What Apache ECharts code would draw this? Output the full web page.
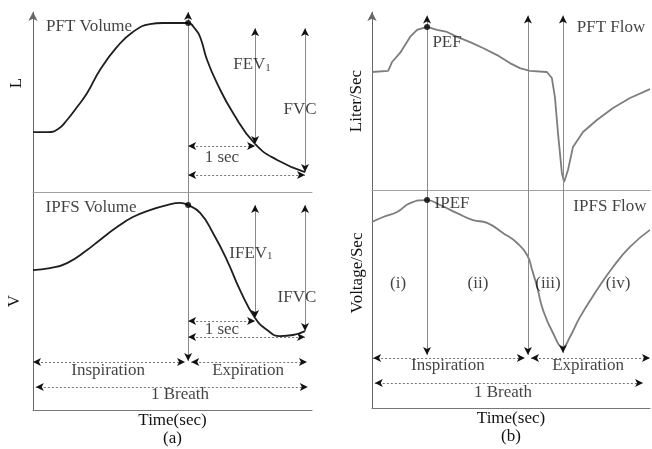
<!DOCTYPE html>
<html>
<head>
<meta charset="utf-8">
<script src="https://cdn.jsdelivr.net/npm/echarts@6/dist/echarts.min.js"></script>
<style>
  html, body { margin: 0; background: #fff; }
  #main { width: 652px; height: 449px; }
</style>
</head>
<body>
<div id="main"></div>
<script>
// time runs 0..10 across each panel, level 0..100 inside each plot
var pftVolTime = [0, 0.54, 0.9, 1.22, 1.58, 1.94, 2.4, 3.01, 3.58, 4.19, 4.66, 5.09, 5.56, 5.81, 5.99, 6.24, 6.59, 7.17, 7.96, 8.75, 9.75];
var pftVolValue = [33.3, 33.3, 35, 40, 47.2, 55, 67.8, 80.6, 88.9, 93.3, 93.9, 93.9, 93.9, 90.6, 86.1, 73.3, 60.6, 43.9, 26.7, 17.8, 11.1];

var ipfsVolTime = [0, 0.61, 1.22, 1.94, 2.4, 3.01, 3.58, 4.19, 4.8, 5.27, 5.56, 5.99, 6.45, 6.95, 7.42, 7.96, 8.39, 8.85, 9.32, 9.75];
var ipfsVolValue = [64.2, 65.1, 67.4, 73.4, 78, 83.9, 88.5, 91.7, 94, 95, 94, 90.4, 81.2, 68.8, 55, 42.2, 36.7, 33.9, 34.4, 36.2];

var pftFlowTime = [0, 0.58, 0.72, 1.01, 1.37, 1.62, 1.98, 2.34, 2.7, 3.06, 3.53, 3.99, 4.5, 4.96, 5.32, 5.68, 6.29, 6.47, 6.58, 6.69, 6.83, 6.91, 7.05, 7.23, 7.59, 8.09, 8.67, 9.28, 10];
var pftFlowValue = [66.3, 66.9, 71.9, 77, 86, 89.9, 91.6, 89.9, 88.8, 86, 83.1, 79.8, 75.8, 71.3, 68.5, 66.9, 66.3, 62.9, 52.2, 32, 9.6, 4.5, 11.2, 24.2, 32.6, 39.3, 46.1, 51.7, 56.7];

var ipfsFlowTime = [0, 0.4, 0.9, 1.37, 1.98, 2.45, 3.06, 3.63, 4.14, 4.71, 5.22, 5.58, 5.76, 5.94, 6.15, 6.51, 6.87, 7.12, 7.48, 8.09, 8.67, 9.28, 10];
var ipfsFlowValue = [85.3, 87.6, 89.9, 94, 95.4, 93.1, 89.4, 86.2, 84.9, 80.3, 75.7, 70.2, 63.3, 55.5, 45, 34.4, 28, 32.6, 41.7, 54.1, 64.7, 73.9, 81.7];

// key instants
var endInspA = 5.56, fev1A = 7.96, fvcA = 9.75;
var pefB = 1.98, endInspB = 5.61, minFlowB = 6.87;

// arrows: [x1, y1, x2, y2, head at start, head at end, dotted]
var aTopArrows = [
  [endInspA, 0, endInspA, 100, false, true, false],
  [fev1A, 26.7, fev1A, 91, true, true, false],
  [fvcA, 11.1, fvcA, 91, true, true, false],
  [endInspA, 25.6, fev1A, 25.6, true, true, true],
  [endInspA, 9.4, fvcA, 9.4, true, true, true]
];
var aBottomArrows = [
  [endInspA, 100, endInspA, 22.5, false, true, false],
  [fev1A, 42.2, fev1A, 94, true, true, false],
  [fvcA, 36.2, fvcA, 94, true, true, false],
  [endInspA, 40.8, fev1A, 40.8, true, true, true],
  [endInspA, 33.5, fvcA, 33.5, true, true, true],
  [0, 22, 5.45, 22, true, true, true],
  [5.67, 22, 9.82, 22, true, true, true],
  [0.1, 10.6, 9.85, 10.6, true, true, true]
];
var bTopArrows = [
  [pefB, 0, pefB, 98, false, true, false],
  [endInspB, 0, endInspB, 98, false, true, false],
  [minFlowB, 0, minFlowB, 98, false, true, false]
];
var bBottomArrows = [
  [pefB, 100, pefB, 24.3, false, true, false],
  [endInspB, 100, endInspB, 24.3, false, true, false],
  [minFlowB, 100, minFlowB, 25.2, false, true, false],
  [0.04, 22.9, 5.5, 22.9, true, true, true],
  [5.72, 22.9, 10, 22.9, true, true, true],
  [0.1, 11.5, 9.75, 11.5, true, true, true]
];

var aTopDots = [[endInspA, 93.9]];
var aBottomDots = [[endInspA, 94]];
var bTopDots = [[pefB, 91.6]];
var bBottomDots = [[pefB, 95.4]];

// text: [label, time, level]
var aTopText = [["PFT Volume", 2.01, 92.2], ["FEV{s|1}", 7.85, 70.6], ["FVC", 9.57, 45.6], ["1 sec", 6.77, 18.9]];
var aBottomText = [["IPFS Volume", 2.08, 93.1], ["IFEV{s|1}", 7.81, 72], ["IFVC", 9.46, 51.8], ["1 sec", 6.77, 36.7],
  ["Inspiration", 2.69, 18.3], ["Expiration", 7.71, 18.3], ["1 Breath", 5.27, 6.9]];
var bTopText = [["PEF", 2.7, 82.6], ["PFT Flow", 8.6, 91]];
var bBottomText = [["IPEF", 2.88, 94], ["IPFS Flow", 8.56, 92.2], ["(i)", 0.94, 57.3], ["(ii)", 3.81, 57.3],
  ["(iii)", 6.33, 57.3], ["(iv)", 8.85, 57.3], ["Inspiration", 2.73, 19.7], ["Expiration", 7.77, 19.7], ["1 Breath", 4.71, 7.3]];

var FONT = "Liberation Serif";
var TEXT = "#111";

function zip(xs, ys) {
  return xs.map(function (x, i) { return [x, ys[i]]; });
}

function seg(a) {
  return [{ coord: [a[0], a[1]] }, { coord: [a[2], a[3]] }];
}

function heads(a) {
  return [
    { coord: [a[0], a[1]], symbol: a[4] ? "arrow" : "none" },
    { coord: [a[2], a[3]], symbol: a[5] ? "arrow" : "none" }
  ];
}

function plotSeries(idx, curve, curveColor, smooth, arrows, dots, texts) {
  var solid = arrows.filter(function (a) { return !a[6]; }).map(seg);
  var dotted = arrows.filter(function (a) { return a[6]; }).map(seg);
  var tips = arrows.filter(function (a) { return a[4] || a[5]; }).map(heads);
  var base = { xAxisIndex: idx, yAxisIndex: idx, animation: false, silent: true };
  var ml = function (data, style) {
    return {
      silent: true, animation: false, symbol: "none", symbolSize: [6, 8],
      label: { show: false }, emphasis: { disabled: true },
      lineStyle: style, data: data
    };
  };
  return [
    Object.assign({
      type: "line", data: curve, showSymbol: false, smooth: smooth,
      lineStyle: { color: curveColor, width: 1.8 }, z: 3,
      markLine: ml(solid, { color: "#8a8a8a", width: 1, type: "solid" })
    }, base),
    Object.assign({
      type: "scatter", data: dots, symbolSize: 6, itemStyle: { color: "#000" }, z: 5,
      markLine: ml(dotted, { color: "#777", width: 1, type: [2, 2] })
    }, base),
    Object.assign({
      type: "scatter", data: [], z: 6,
      markLine: ml(tips, { color: "#111", width: 0 })
    }, base),
    Object.assign({
      type: "scatter", z: 7, symbolSize: 1, itemStyle: { color: "rgba(0,0,0,0)" },
      data: texts.map(function (t) { return { name: t[0], value: [t[1], t[2]] }; }),
      label: {
        show: true, position: "inside", formatter: "{b}",
        fontFamily: FONT, fontSize: 17, color: TEXT,
        rich: { s: { fontFamily: FONT, fontSize: 11, color: TEXT, verticalAlign: "bottom", padding: [7, 0, 0, 0] } }
      }
    }, base)
  ];
}

function xAx(idx, lineColor, name) {
  return {
    type: "value", gridIndex: idx, min: 0, max: 10,
    axisLine: { show: true, onZero: false, lineStyle: { color: lineColor, width: 1 } },
    axisTick: { show: false }, axisLabel: { show: false }, splitLine: { show: false },
    name: name || "", nameLocation: "middle", nameGap: 2,
    nameTextStyle: { fontFamily: FONT, fontSize: 17, color: TEXT, lineHeight: 18 }
  };
}

function yAx(idx, name, gap, shiftUp, withArrow) {
  return {
    type: "value", gridIndex: idx, min: 0, max: 100,
    axisLine: {
      show: true, onZero: false, symbol: withArrow ? ["none", "arrow"] : "none", symbolSize: [7, 9],
      lineStyle: { color: "#666", width: 1 }
    },
    axisTick: { show: false }, axisLabel: { show: false }, splitLine: { show: false },
    name: name, nameLocation: "middle", nameRotate: 90, nameGap: gap,
    nameTextStyle: { fontFamily: FONT, fontSize: 17, color: TEXT, padding: [0, 0, 0, shiftUp * 2] }
  };
}

var chartDom = document.getElementById("main");
var myChart = echarts.init(chartDom);
var option;

option = {
  backgroundColor: "#fff",
  grid: [
    { left: 33, top: 12, width: 279, height: 180 },
    { left: 33, top: 192, width: 279, height: 218 },
    { left: 372, top: 12, width: 278, height: 178 },
    { left: 372, top: 190, width: 278, height: 218 }
  ],
  xAxis: [
    xAx(0, "#a0a0a0"),
    xAx(1, "#777", "Time(sec)\n(a)"),
    xAx(2, "#a0a0a0"),
    xAx(3, "#777", "Time(sec)\n(b)")
  ],
  yAxis: [
    yAx(0, "L", 8, 19, true),
    yAx(1, "V", 10, 0, false),
    yAx(2, "Liter/Sec", 7, 0, true),
    yAx(3, "Voltage/Sec", 6, 26, false)
  ],
  series: [].concat(
    plotSeries(0, zip(pftVolTime, pftVolValue), "#1e1e1e", 0.5, aTopArrows, aTopDots, aTopText),
    plotSeries(1, zip(ipfsVolTime, ipfsVolValue), "#1e1e1e", 0.5, aBottomArrows, aBottomDots, aBottomText),
    plotSeries(2, zip(pftFlowTime, pftFlowValue), "#7d7d7d", false, bTopArrows, bTopDots, bTopText),
    plotSeries(3, zip(ipfsFlowTime, ipfsFlowValue), "#7d7d7d", 0.5, bBottomArrows, bBottomDots, bBottomText)
  )
};

option && myChart.setOption(option);
</script>
</body>
</html>
